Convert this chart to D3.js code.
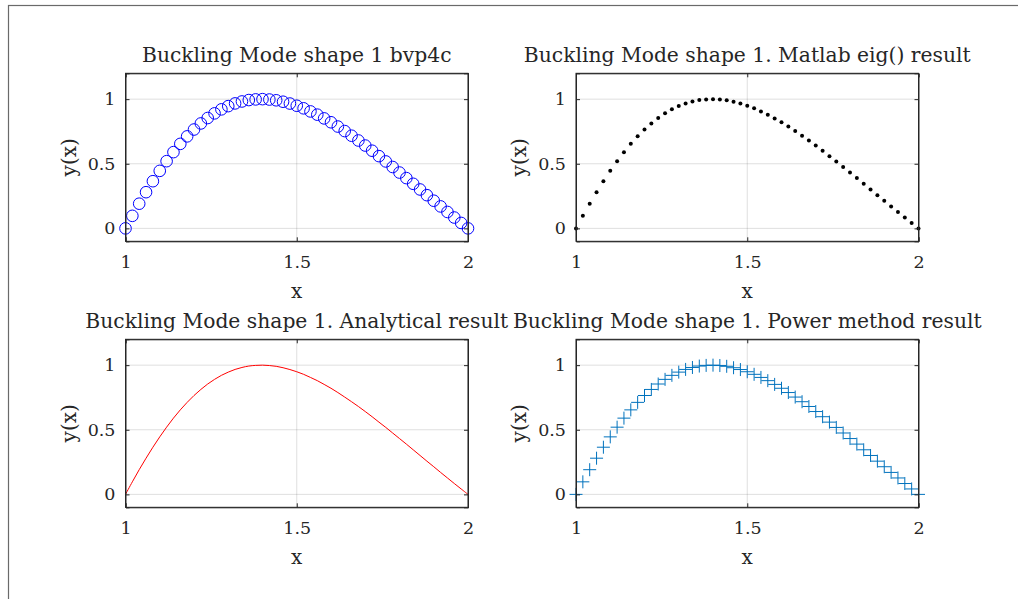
<!DOCTYPE html>
<html><head><meta charset="utf-8">
<script src="https://cdn.jsdelivr.net/npm/d3@7"></script>
<style>body{margin:0;background:#fff}svg{display:block}text{font-family:"DejaVu Serif","Liberation Serif",serif;fill:#262626}</style>
</head><body>
<script>
// x grid (51 samples)
const xs = [1.00,1.02,1.04,1.06,1.08,1.10,1.12,1.14,1.16,1.18,1.20,1.22,1.24,1.26,1.28,1.30,1.32,1.34,1.36,1.38,1.40,1.42,1.44,1.46,1.48,1.50,1.52,1.54,1.56,1.58,1.60,1.62,1.64,1.66,1.68,1.70,1.72,1.74,1.76,1.78,1.80,1.82,1.84,1.86,1.88,1.90,1.92,1.94,1.96,1.98,2.00];
const yBvp = [0,0.097,0.191,0.280,0.365,0.445,0.520,0.590,0.654,0.712,0.765,0.812,0.854,0.890,0.921,0.946,0.967,0.982,0.993,0.998,1.000,0.997,0.991,0.980,0.966,0.949,0.929,0.905,0.880,0.851,0.821,0.788,0.753,0.717,0.680,0.641,0.601,0.559,0.518,0.475,0.432,0.389,0.345,0.301,0.257,0.214,0.170,0.127,0.084,0.042,0];
const yEig = [0,0.097,0.191,0.280,0.365,0.445,0.520,0.590,0.654,0.712,0.765,0.812,0.854,0.890,0.921,0.946,0.967,0.982,0.993,0.998,1.000,0.997,0.991,0.980,0.966,0.949,0.929,0.905,0.880,0.851,0.821,0.788,0.753,0.717,0.680,0.641,0.601,0.559,0.518,0.475,0.432,0.389,0.345,0.301,0.257,0.214,0.170,0.127,0.084,0.042,0];
const yAnalytic = [0,0.097,0.191,0.280,0.365,0.445,0.520,0.590,0.654,0.712,0.765,0.812,0.854,0.890,0.921,0.946,0.967,0.982,0.993,0.998,1.000,0.997,0.991,0.980,0.966,0.949,0.929,0.905,0.880,0.851,0.821,0.788,0.753,0.717,0.680,0.641,0.601,0.559,0.518,0.475,0.432,0.389,0.345,0.301,0.257,0.214,0.170,0.127,0.084,0.042,0];
const yPower = [0,0.097,0.191,0.280,0.365,0.445,0.520,0.590,0.654,0.712,0.765,0.812,0.854,0.890,0.921,0.946,0.967,0.982,0.993,0.998,1.000,0.997,0.991,0.980,0.966,0.949,0.929,0.905,0.880,0.851,0.821,0.788,0.753,0.717,0.680,0.641,0.601,0.559,0.518,0.475,0.432,0.389,0.345,0.301,0.257,0.214,0.170,0.127,0.084,0.042,0];
const titles = ["Buckling Mode shape 1 bvp4c","Buckling Mode shape 1. Matlab eig() result","Buckling Mode shape 1. Analytical result","Buckling Mode shape 1. Power method result"];
const xTicks = [1,1.5,2];
const xTickLabels = ["1","1.5","2"];
const yTicks = [0,0.5,1];
const yTickLabels = ["0","0.5","1"];
const xLabel = "x", yLabel = "y(x)";

const W = 1018, H = 599;
const svg = d3.select("body").append("svg").attr("width", W).attr("height", H);
svg.append("rect").attr("x",8.5).attr("y",5.5).attr("width",1100).attr("height",1000)
  .attr("fill","none").attr("stroke","#6a6a6a").attr("stroke-width",1.2);

const panels = [
  {left:125.5, top:73.3, data:yBvp, kind:"circle"},
  {left:576, top:73.3, data:yEig, kind:"dot"},
  {left:125.5, top:339.3, data:yAnalytic, kind:"line"},
  {left:576, top:339.3, data:yPower, kind:"plus"}
];
const pw = 342.5, ph = 168;

panels.forEach((p,i)=>{
  const g = svg.append("g").attr("transform",`translate(${p.left},${p.top})`);
  const x = d3.scaleLinear().domain([1,2]).range([0,pw]);
  const y = d3.scaleLinear().domain([-0.1,1.2]).range([ph,0]);
  // grid
  g.selectAll(".gx").data(xTicks).join("line").attr("x1",d=>x(d)).attr("x2",d=>x(d)).attr("y1",0).attr("y2",ph)
    .attr("stroke","#262626").attr("stroke-opacity",0.15).attr("stroke-width",1);
  g.selectAll(".gy").data(yTicks).join("line").attr("y1",d=>y(d)).attr("y2",d=>y(d)).attr("x1",0).attr("x2",pw)
    .attr("stroke","#262626").attr("stroke-opacity",0.15).attr("stroke-width",1);
  // data
  const pts = xs.map((xv,k)=>[xv,p.data[k]]);
  const dg = g.append("g");
  if (p.kind==="circle") {
    dg.selectAll("circle").data(pts).join("circle").attr("cx",d=>x(d[0])).attr("cy",d=>y(d[1])).attr("r",5.8)
      .attr("fill","none").attr("stroke","#0000ff").attr("stroke-width",1);
  } else if (p.kind==="dot") {
    dg.selectAll("circle").data(pts).join("circle").attr("cx",d=>x(d[0])).attr("cy",d=>y(d[1])).attr("r",2)
      .attr("fill","#000");
  } else if (p.kind==="line") {
    dg.append("path").datum(pts).attr("d",d3.line().x(d=>x(d[0])).y(d=>y(d[1])).curve(d3.curveCatmullRom))
      .attr("fill","none").attr("stroke","#ff0000").attr("stroke-width",1);
  } else {
    dg.selectAll("path").data(pts).join("path")
      .attr("d",d=>{const cx=x(d[0]), cy=y(d[1]), s=6.5; return `M${cx-s},${cy}H${cx+s}M${cx},${cy-s}V${cy+s}`;})
      .attr("stroke","#0072bd").attr("stroke-width",1).attr("fill","none");
  }
  // axes: ticks inward on all four sides
  const tl = 4;
  g.append("g").call(d3.axisBottom(x).tickValues(xTicks).tickSize(-tl).tickFormat((d,k)=>xTickLabels[k]).tickPadding(14))
    .attr("transform",`translate(0,${ph})`);
  g.append("g").call(d3.axisTop(x).tickValues(xTicks).tickSize(-tl).tickFormat(""));
  g.append("g").call(d3.axisLeft(y).tickValues(yTicks).tickSize(-tl).tickFormat((d,k)=>yTickLabels[k]).tickPadding(10));
  g.append("g").call(d3.axisRight(y).tickValues(yTicks).tickSize(-tl).tickFormat("")).attr("transform",`translate(${pw},0)`);
  g.selectAll(".domain").attr("stroke","#262626").attr("stroke-width",1);
  g.selectAll(".tick line").attr("stroke","#262626");
  g.selectAll(".tick text").attr("font-family","DejaVu Serif").attr("font-size",17.5).attr("fill","#262626");
  // frame
  g.append("rect").attr("width",pw).attr("height",ph).attr("fill","none").attr("stroke","#262626").attr("stroke-width",1);
  // labels
  g.append("text").attr("x",pw/2).attr("y",ph+57).attr("text-anchor","middle").attr("font-size",20).text(xLabel);
  g.append("text").attr("transform",`translate(-50,${ph/2}) rotate(-90)`).attr("text-anchor","middle").attr("font-size",20).text(yLabel);
  g.append("text").attr("x",pw/2).attr("y",-11).attr("text-anchor","middle").attr("font-size",20.3).text(titles[i]);
});
</script>
</body></html>
